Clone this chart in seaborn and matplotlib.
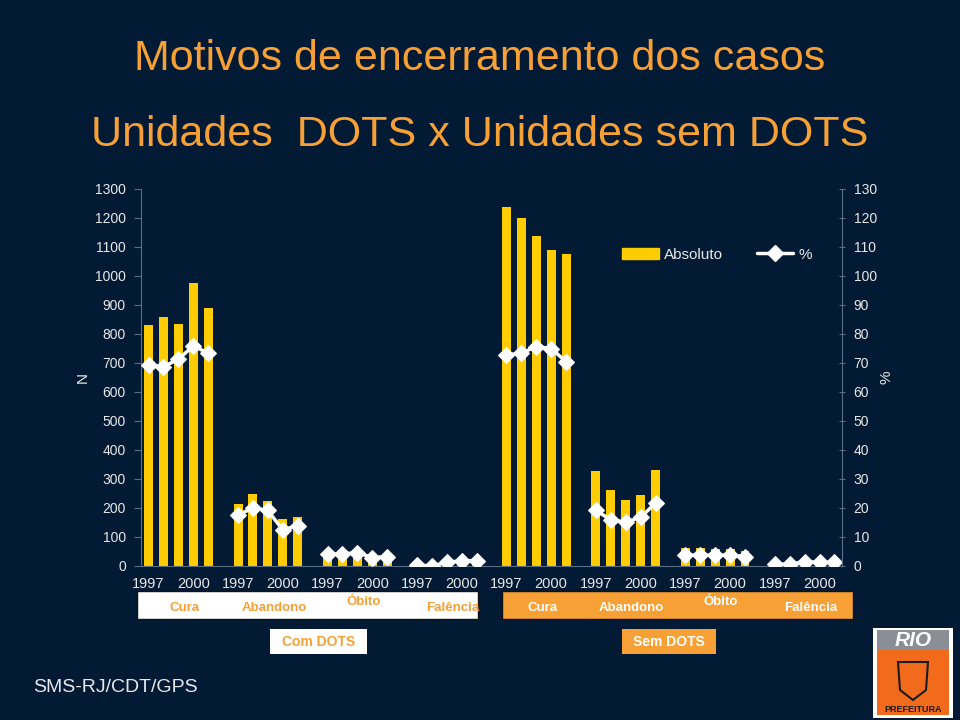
import matplotlib
matplotlib.use("Agg")
import pandas as pd
import matplotlib.pyplot as plt
import seaborn as sns
from matplotlib.patches import Rectangle, Patch, Polygon
from matplotlib.lines import Line2D

# ---------------------------------------------------------
# Data
# ---------------------------------------------------------
years = [1997, 1998, 1999, 2000, 2001]
motivos = ["Cura", "Abandono", "Óbito", "Falência"]
grupos = ["Com DOTS", "Sem DOTS"]

com_cura_n = [830, 859, 833, 975, 887]
com_abandono_n = [214, 249, 225, 160, 167]
com_obito_n = [45, 45, 45, 33, 37]
com_falencia_n = [3, 2, 10, 14, 14]

com_cura_pct = [69.1, 68.7, 71.2, 75.8, 73.3]
com_abandono_pct = [17.6, 19.9, 19.1, 12.4, 13.9]
com_obito_pct = [4.1, 4.1, 4.6, 2.9, 3.2]
com_falencia_pct = [0.3, 0.0, 1.2, 1.8, 1.8]

sem_cura_n = [1237, 1199, 1136, 1087, 1076]
sem_abandono_n = [327, 260, 228, 243, 332]
sem_obito_n = [61, 61, 58, 58, 50]
sem_falencia_n = [8, 8, 18, 14, 14]

sem_cura_pct = [72.7, 73.3, 75.6, 74.9, 70.4]
sem_abandono_pct = [19.1, 15.9, 15.1, 16.7, 21.7]
sem_obito_pct = [3.6, 3.8, 3.6, 3.8, 3.2]
sem_falencia_pct = [0.6, 0.6, 1.5, 1.2, 1.2]

n_lists = [[com_cura_n, com_abandono_n, com_obito_n, com_falencia_n],
           [sem_cura_n, sem_abandono_n, sem_obito_n, sem_falencia_n]]
pct_lists = [[com_cura_pct, com_abandono_pct, com_obito_pct, com_falencia_pct],
             [sem_cura_pct, sem_abandono_pct, sem_obito_pct, sem_falencia_pct]]

# each block = 5 years + 1 empty slot
slot = len(years) + 1
rows = []
for gi, grupo in enumerate(grupos):
    for mi, motivo in enumerate(motivos):
        for yi, year in enumerate(years):
            rows.append({
                "pos": (gi * len(motivos) + mi) * slot + yi,
                "serie": f"{grupo} {motivo}",
                "n": n_lists[gi][mi][yi],
                "pct": pct_lists[gi][mi][yi],
            })
df = pd.DataFrame(rows)
n_slots = len(grupos) * len(motivos) * slot - 1

# ---------------------------------------------------------
# Style
# ---------------------------------------------------------
BG = "#021a34"
YELLOW = "#ffcc00"
ORANGE = "#f7a035"
TXT = "#e8e8e8"
AXC = "#5a6e86"

sns.set_style("dark")
plt.rcParams["font.family"] = ["Liberation Sans", "DejaVu Sans"]

fig = plt.figure(figsize=(9.6, 7.2), dpi=100, facecolor=BG)
ax = fig.add_axes([0.147, 0.214, 0.730, 0.524])
ax.set_facecolor(BG)

sns.barplot(data=df, x="pos", y="n", native_scale=True, color=YELLOW,
            saturation=1, width=0.6, errorbar=None, linewidth=0,
            edgecolor="none", ax=ax)

ax2 = ax.twinx()
sns.lineplot(data=df, x="pos", y="pct", units="serie", estimator=None,
             color="white", marker="D", markersize=8, markeredgecolor="white",
             linewidth=2.5, ax=ax2, legend=False)

ax.set_xlim(-0.5, n_slots - 0.5)
ax.set_ylim(0, 1300)
ax2.set_ylim(0, 130)
ax.set_yticks(range(0, 1301, 100))
ax2.set_yticks(range(0, 131, 10))

# tick marks at category boundaries, labels every 3rd category
ax.set_xticks([p - 0.5 for p in range(n_slots + 1)])
ax.set_xticklabels([])
label_pos = list(range(0, n_slots, 3))
ax.set_xticks(label_pos, minor=True)
ax.set_xticklabels([str(years[p % slot]) for p in label_pos], minor=True)
ax.tick_params(axis="x", which="major", length=4, color=AXC, direction="out")
ax.tick_params(axis="x", which="minor", length=0, pad=8, labelsize=10.5, labelcolor=TXT)
ax.tick_params(axis="y", length=5, color=AXC, labelsize=10, labelcolor=TXT, pad=6)
ax2.tick_params(axis="y", length=5, color=AXC, labelsize=10, labelcolor=TXT,
                direction="inout", pad=6)

for a in (ax, ax2):
    a.grid(False)
    a.set_xlabel("")
    a.spines["top"].set_visible(False)
    for side in ("left", "right", "bottom"):
        a.spines[side].set_color(AXC)
ax.spines["right"].set_visible(False)
ax2.spines["left"].set_visible(False)
ax2.spines["bottom"].set_visible(False)

ax.set_ylabel("N", color=TXT, fontsize=11, labelpad=4)
ax2.set_ylabel("%", color=TXT, fontsize=11, labelpad=2)

handles = [Patch(facecolor=YELLOW, edgecolor=YELLOW),
           Line2D([], [], color="white", lw=2.5, marker="D", markersize=8)]
ax2.legend(handles, ["Absoluto", "%"], loc="center", bbox_to_anchor=(0.822, 0.825),
           ncol=2, frameon=False, fontsize=11, labelcolor=TXT,
           columnspacing=2.2, handlelength=2.4, handletextpad=0.35)

# ---------------------------------------------------------
# Titles and annotations
# ---------------------------------------------------------
fig.text(0.5, 0.918, "Motivos de encerramento dos casos", ha="center", va="center",
         color=ORANGE, fontsize=31)
fig.text(0.5, 0.813, "Unidades  DOTS x Unidades sem DOTS", ha="center", va="center",
         color=ORANGE, fontsize=31)

# category strips under the axis
strips = [(137, 478, "white", ORANGE), (502, 853, ORANGE, "white")]
for gi, (x0, x1, face, fc) in enumerate(strips):
    fig.patches.append(Rectangle((x0 / 960, 1 - 619 / 720), (x1 - x0) / 960, 28 / 720,
                                 transform=fig.transFigure, facecolor=face,
                                 edgecolor="#111111", lw=1))
    for mi, motivo in enumerate(motivos):
        center = (gi * len(motivos) + mi) * slot + 2.4
        xf = ax.transData.transform((center, 0))[0] / fig.bbox.width
        yoff = 0.004 if motivo == "Óbito" else -0.004
        fig.text(xf, 1 - 605 / 720 + yoff, motivo, ha="center", va="center",
                 color=fc, fontsize=9.5, fontweight="bold")

boxes = [(270, 367, "white", ORANGE, "Com DOTS"), (622, 716, ORANGE, "white", "Sem DOTS")]
for x0, x1, face, fc, label in boxes:
    fig.patches.append(Rectangle((x0 / 960, 1 - 654 / 720), (x1 - x0) / 960, 25 / 720,
                                 transform=fig.transFigure, facecolor=face,
                                 edgecolor="none"))
    fig.text((x0 + x1) / 2 / 960, 1 - 642 / 720, label, ha="center", va="center",
             color=fc, fontsize=10, fontweight="bold")

fig.text(33 / 960, 1 - 687 / 720, "SMS-RJ/CDT/GPS", ha="left", va="center",
         color=TXT, fontsize=14)

# simple Prefeitura logo
fig.patches.append(Rectangle((873 / 960, 1 - 718 / 720), 80 / 960, 90 / 720,
                             transform=fig.transFigure, facecolor="white", edgecolor="none"))
fig.patches.append(Rectangle((877 / 960, 1 - 650 / 720), 72 / 960, 20 / 720,
                             transform=fig.transFigure, facecolor="#8a8f96", edgecolor="none"))
fig.patches.append(Rectangle((877 / 960, 1 - 715 / 720), 72 / 960, 65 / 720,
                             transform=fig.transFigure, facecolor="#f26a1b", edgecolor="none"))
fig.patches.append(Polygon([(898 / 960, 1 - 662 / 720), (928 / 960, 1 - 662 / 720),
                            (926 / 960, 1 - 690 / 720), (913 / 960, 1 - 700 / 720),
                            (900 / 960, 1 - 690 / 720)],
                           closed=True, transform=fig.transFigure,
                           facecolor="#f26a1b", edgecolor="#1a1a1a", lw=1.5))
fig.text(913 / 960, 1 - 640 / 720, "RIO", ha="center", va="center", color="white",
         fontsize=15, fontweight="bold", style="italic")
fig.text(913 / 960, 1 - 709 / 720, "PREFEITURA", ha="center", va="center", color="#1a1a1a",
         fontsize=6.5, fontweight="bold")

fig.savefig("out.png", dpi=100, facecolor=BG)
